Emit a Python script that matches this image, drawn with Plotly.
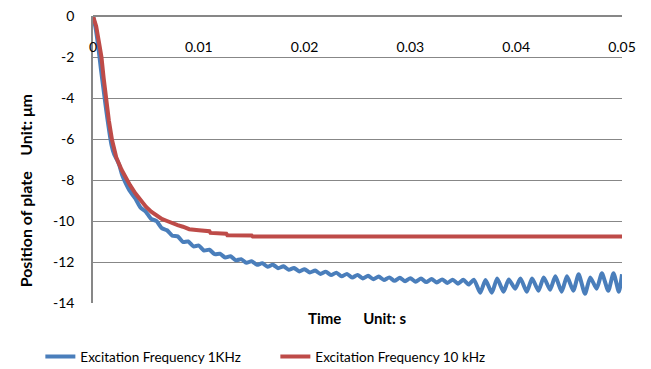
import plotly.graph_objects as go

# Plate position response (µm) vs time for two excitation frequencies
time_1k_ms = [
    0, 0.25, 0.5, 0.75, 1.0, 1.25, 1.5, 1.75, 2.0, 2.25, 2.5, 2.75, 3.0, 3.5,
    4.0, 4.5, 5.0, 5.5, 6.0, 6.5, 7.0, 7.5, 8.0, 8.5, 9.0, 9.5, 10.0, 10.5,
    11.0, 11.5, 12.0, 12.5, 13.0, 13.5, 14.0, 14.5, 15.0, 15.5, 16.0, 16.5,
    17.0, 17.5, 18.0, 18.5, 19.0, 19.5, 20.0, 20.5, 21.0, 21.5, 22.0, 22.5,
    23.0, 23.5, 24.0, 24.5, 25.0, 25.5, 26.0, 26.5, 27.0, 27.5, 28.0, 28.5,
    29.0, 29.5, 30.0, 30.5, 31.0, 31.5, 32.0, 32.5, 33.0, 33.5, 34.0, 34.5,
    35.0, 35.5, 36.0, 36.6, 37.1, 37.7, 38.2, 38.8, 39.3, 39.9, 40.4, 41.0,
    41.5, 42.1, 42.6, 43.2, 43.7, 44.3, 44.8, 45.4, 45.9, 46.5, 47.0, 47.6,
    48.1, 48.7, 49.2, 49.7, 50.0,
]
position_1k = [
    0, -0.6, -1.5, -2.6, -3.6, -4.6, -5.5, -6.3, -6.75, -7.0, -7.3, -7.75,
    -8.05, -8.55, -8.9, -9.35, -9.55, -9.9, -10.0, -10.35, -10.45, -10.72,
    -10.75, -11.02, -11.0, -11.24, -11.2, -11.44, -11.4, -11.62, -11.6,
    -11.78, -11.72, -11.92, -11.86, -12.04, -11.96, -12.14, -12.06, -12.23,
    -12.13, -12.3, -12.21, -12.38, -12.29, -12.46, -12.35, -12.51, -12.42,
    -12.58, -12.47, -12.64, -12.52, -12.7, -12.58, -12.76, -12.63, -12.8,
    -12.67, -12.84, -12.71, -12.88, -12.75, -12.92, -12.77, -12.94, -12.79,
    -12.96, -12.81, -12.98, -12.83, -13.0, -12.85, -13.02, -12.86, -13.06,
    -12.87, -13.1, -12.86, -13.5, -12.88, -13.5, -12.8, -13.45, -12.85,
    -13.3, -12.8, -13.45, -12.8, -13.4, -12.75, -13.35, -12.7, -13.45,
    -12.7, -13.4, -12.6, -13.55, -12.75, -13.3, -12.55, -13.4, -12.55,
    -13.45, -12.6,
]

time_10k_ms = [
    0, 0.3, 0.6, 0.8, 1.0, 1.2, 1.5, 1.8, 2.2, 2.7, 3.2, 3.5, 4.0, 4.5, 5.0,
    5.5, 6.0, 6.5, 7.0, 7.5, 8.0, 8.5, 9.0, 9.1, 10.0, 11.0, 11.1, 12.6,
    12.7, 15.0, 15.1, 50.0,
]
position_10k = [
    0, -0.5, -1.4, -2.0, -3.0, -4.0, -5.1, -6.05, -6.9, -7.5, -8.0, -8.25,
    -8.65, -9.0, -9.3, -9.55, -9.75, -9.9, -10.0, -10.12, -10.2, -10.28,
    -10.34, -10.4, -10.45, -10.5, -10.58, -10.62, -10.69, -10.71, -10.76,
    -10.76,
]

x_tick_vals = [0, 0.01, 0.02, 0.03, 0.04, 0.05]
x_tick_text = ["0", "0.01", "0.02", "0.03", "0.04", "0.05"]
y_tick_vals = [0, -2, -4, -6, -8, -10, -12, -14]
y_tick_text = ["0", "-2", "-4", "-6", "-8", "-10", "-12", "-14"]

time_1k = [v / 1000 for v in time_1k_ms]
time_10k = [v / 1000 for v in time_10k_ms]

FONT = "Lato"
GRID = "#878787"

fig = go.Figure()
fig.add_trace(go.Scatter(
    x=time_1k, y=position_1k, mode="lines",
    name="Excitation Frequency 1KHz",
    line=dict(color="#4A7EBB", width=4, shape="spline", smoothing=0.6),
))
fig.add_trace(go.Scatter(
    x=time_10k, y=position_10k, mode="lines",
    name="Excitation Frequency 10 kHz",
    line=dict(color="#BE4B48", width=4),
))

fig.update_layout(
    width=651, height=369,
    margin=dict(l=93, r=29, t=16, b=66, autoexpand=False),
    paper_bgcolor="white", plot_bgcolor="white",
    font=dict(family=FONT, size=14, color="black"),
    showlegend=True,
    legend=dict(
        orientation="h", xref="container", x=0.062, xanchor="left",
        yref="container", y=0.033, yanchor="middle",
        font=dict(family=FONT, size=13.5, color="black"),
        itemwidth=30, entrywidth=190, tracegroupgap=0,
        bgcolor="rgba(0,0,0,0)",
    ),
    xaxis=dict(
        range=[0, 0.05], anchor="free", position=1, side="bottom",
        tickvals=x_tick_vals, ticktext=x_tick_text,
        ticks="outside", ticklen=18, tickcolor="rgba(0,0,0,0)",
        showgrid=False, zeroline=False,
        showline=True, linecolor=GRID, linewidth=1.5,
        tickfont=dict(family=FONT, size=14),
    ),
    yaxis=dict(
        range=[-14, 0],
        tickvals=y_tick_vals, ticktext=y_tick_text,
        ticks="outside", ticklen=14, tickcolor="rgba(0,0,0,0)",
        showgrid=True, gridcolor=GRID, gridwidth=1,
        zeroline=False,
        showline=True, linecolor=GRID, linewidth=1.5,
        tickfont=dict(family=FONT, size=14),
    ),
    annotations=[
        dict(
            text="<b>Position of plate    Unit: μm</b>",
            xref="paper", yref="paper", x=-0.128, y=0.39,
            xanchor="center", yanchor="middle", textangle=-90,
            showarrow=False, font=dict(family=FONT, size=16),
        ),
        dict(
            text="<b>Time      Unit: s</b>",
            xref="paper", yref="paper", x=0.499, y=-0.052,
            xanchor="center", yanchor="middle",
            showarrow=False, font=dict(family=FONT, size=15),
        ),
    ],
)

fig.write_html("out.html")
